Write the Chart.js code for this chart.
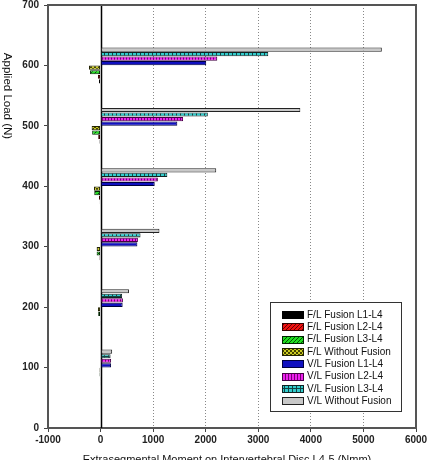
<!DOCTYPE html>
<html lang="en">
<head>
<meta charset="UTF-8">
<title>Extrasegmental Moment vs Applied Load</title>
<script src="https://cdn.jsdelivr.net/npm/chart.js"></script>
<style>body{margin:0;background:#fff}</style>
</head>
<body>
<canvas id="momentChart" width="427" height="460"></canvas>

<script>
    // applied loads (N) and moments (Nmm)
    const loads = [100, 200, 300, 400, 500, 600];
    const flFusionL1L4 = [-5, -5, -10, -15, -20, -30];
    const flFusionL2L4 = [-5, -10, -20, -30, -45, -50];
    const flFusionL3L4 = [-20, -45, -75, -120, -160, -200];
    const flWithout = [-20, -50, -75, -125, -170, -220];
    const vlFusionL1L4 = [200, 420, 700, 1030, 1460, 2010];
    const vlFusionL2L4 = [200, 425, 710, 1090, 1570, 2220];
    const vlFusionL3L4 = [190, 410, 760, 1270, 2040, 3190];
    const vlWithout = [220, 540, 1120, 2200, 3800, 5350];
    const xTicks = [-1000, 0, 1000, 2000, 3000, 4000, 5000, 6000];

    function pattern(bg, fg, kind) {
        const c = document.createElement('canvas');
        const s = kind === 'vstripe' ? 3 : 4;
        c.width = s; c.height = s;
        const g = c.getContext('2d');
        g.fillStyle = bg;
        g.fillRect(0, 0, s, s);
        g.fillStyle = fg;
        if (kind === 'diag') {
            for (let i = 0; i < s; i++) g.fillRect(i, s - 1 - i, 1, 1);
        } else if (kind === 'checker') {
            g.fillRect(0, 0, 2, 2);
            g.fillRect(2, 2, 2, 2);
        } else if (kind === 'vstripe') {
            g.fillRect(0, 0, 1, s);
        } else if (kind === 'grid') {
            g.fillRect(0, 0, s, 1);
            g.fillRect(0, 0, 1, s);
        }
        return g.createPattern(c, 'repeat');
    }

    function series(label, values, fill, border) {
        return {
            label,
            data: values.map((v, i) => ({ x: v, y: loads[i] })),
            backgroundColor: fill,
            borderColor: border,
            borderWidth: 1,
            borderSkipped: false,
            barPercentage: 0.92,
            categoryPercentage: 0.6
        };
    }

    // listed top-to-bottom as they sit in each group
    const datasets = [
        series('V/L Without Fusion', vlWithout, '#c8c8c8', '#222'),
        series('V/L Fusion L3-L4', vlFusionL3L4, pattern('#33cccc', '#114444', 'grid'), '#112222'),
        series('V/L Fusion L2-L4', vlFusionL2L4, pattern('#ee22ee', '#770077', 'vstripe'), '#440044'),
        series('V/L Fusion L1-L4', vlFusionL1L4, '#1010c0', '#000040'),
        series('F/L Without Fusion', flWithout, pattern('#cccc22', '#444400', 'checker'), '#222200'),
        series('F/L Fusion L3-L4', flFusionL3L4, pattern('#22dd22', '#005500', 'diag'), '#002200'),
        series('F/L Fusion L2-L4', flFusionL2L4, pattern('#ee1111', '#660000', 'diag'), '#330000'),
        series('F/L Fusion L1-L4', flFusionL1L4, '#000', '#000')
    ];

    const framePlugin = {
        id: 'frame',
        beforeDatasetsDraw(chart) {
            const { ctx, chartArea, scales } = chart;
            const x0 = Math.round(scales.x.getPixelForValue(0)) + 0.5;
            ctx.save();
            ctx.strokeStyle = '#000';
            ctx.lineWidth = 1.5;
            ctx.beginPath();
            ctx.moveTo(x0, chartArea.top);
            ctx.lineTo(x0, chartArea.bottom);
            ctx.stroke();
            ctx.restore();
        },
        afterDraw(chart) {
            const { ctx, chartArea } = chart;
            ctx.save();
            ctx.strokeStyle = '#555';
            ctx.lineWidth = 2;
            ctx.beginPath();
            ctx.moveTo(chartArea.left, chartArea.top);
            ctx.lineTo(chartArea.right, chartArea.top);
            ctx.lineTo(chartArea.right, chartArea.bottom);
            ctx.stroke();

            // legend box
            const lx = 270.5, ly = 302.5, lw = 131, lh = 109;
            ctx.fillStyle = '#fff';
            ctx.fillRect(lx, ly, lw, lh);
            ctx.strokeStyle = '#333';
            ctx.lineWidth = 1;
            ctx.strokeRect(lx, ly, lw, lh);
            ctx.font = '10px "Liberation Sans", Arial, sans-serif';
            ctx.textBaseline = 'middle';
            const items = chart.data.datasets.slice().reverse();
            items.forEach((ds, i) => {
                const cy = 315 + i * 12.3;
                ctx.fillStyle = ds.backgroundColor;
                ctx.fillRect(282, Math.round(cy - 4), 22, 8);
                ctx.strokeStyle = ds.borderColor;
                ctx.strokeRect(282.5, Math.round(cy - 4) + 0.5, 21, 7);
                ctx.fillStyle = '#111';
                ctx.fillText(ds.label, 307, cy);
            });

            // axis titles
            ctx.font = '11px "Liberation Sans", Arial, sans-serif';
            ctx.fillStyle = '#111';
            ctx.textAlign = 'center';
            ctx.textBaseline = 'alphabetic';
            ctx.fillText('Extrasegmental Moment on Intervertebral Disc L4-5 (Nmm)', 227, 463);
            ctx.font = '11.5px "Liberation Sans", Arial, sans-serif';
            ctx.translate(4, 96);
            ctx.rotate(Math.PI / 2);
            ctx.fillText('Applied Load (N)', 0, 0);
            ctx.restore();
        }
    };

    const tickFont = { family: '"Liberation Sans", Arial, sans-serif', size: 10, weight: 'bold' };

    new Chart(document.getElementById('momentChart'), {
        type: 'bar',
        data: { datasets },
        options: {
            indexAxis: 'y',
            responsive: false,
            animation: false,
            layout: { padding: { top: 5, right: 11, left: 0, bottom: 0 } },
            plugins: {
                legend: { display: false },
                tooltip: { enabled: false }
            },
            scales: {
                x: {
                    type: 'linear',
                    min: -1000,
                    max: 6000,
                    afterBuildTicks: axis => { axis.ticks = xTicks.map(v => ({ value: v })); },
                    afterFit: axis => {
                        axis.height = 32;
                        axis.paddingLeft = 0;
                        axis.paddingRight = 0;
                    },
                    grid: {
                        color: c => (c.tick && [-1000, 0, 6000].includes(c.tick.value)) ? 'rgba(0,0,0,0)' : '#888',
                        tickColor: '#444',
                        tickLength: 4,
                        lineWidth: 1
                    },
                    border: { display: true, color: '#555', width: 2, dash: [1, 2] },
                    ticks: {
                        color: '#222',
                        padding: 2,
                        maxRotation: 0,
                        font: tickFont,
                        callback: v => String(v)
                    }
                },
                y: {
                    type: 'linear',
                    min: 0,
                    max: 700,
                    offset: false,
                    afterFit: axis => {
                        axis.width = 48;
                        axis.paddingTop = 0;
                        axis.paddingBottom = 0;
                    },
                    grid: {
                        offset: false,
                        color: 'rgba(0,0,0,0)',
                        tickColor: '#444',
                        tickLength: 4
                    },
                    border: { display: true, color: '#555', width: 2 },
                    ticks: {
                        stepSize: 100,
                        color: '#222',
                        padding: 5,
                        font: tickFont,
                        callback: v => String(v)
                    }
                }
            }
        },
        plugins: [framePlugin]
    });
</script>
</body>
</html>
